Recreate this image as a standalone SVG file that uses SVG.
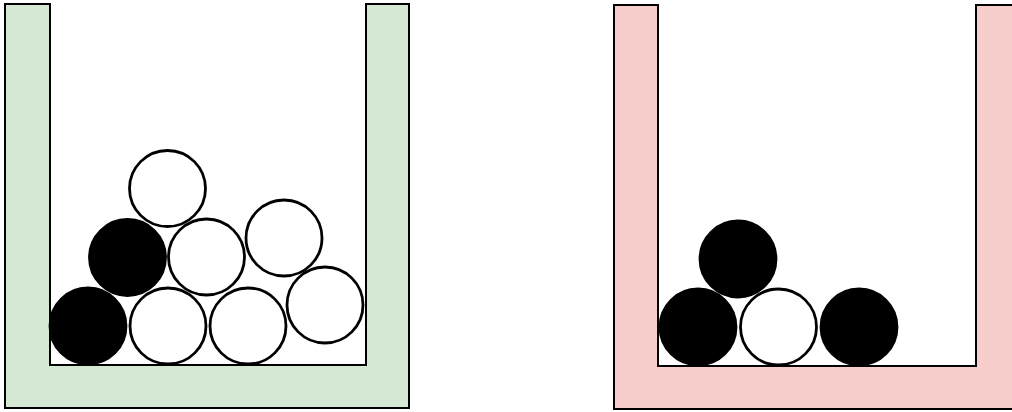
<svg xmlns="http://www.w3.org/2000/svg" width="1012" height="412" viewBox="0 0 1012 412">
<style>
.wall{stroke:#000;stroke-width:2}
.ball{stroke:#000;stroke-width:2.8}
.w{fill:#fff}
.b{fill:#000}
</style>
<rect width="1012" height="412" fill="#fff"/>
<g id="container-left">
<path class="wall" fill="#d5e8d4" d="M5,4 H50 V365 H366 V4 H409 V408 H5 Z"/>
</g>
<g id="balls-left">
<circle class="ball b" cx="88" cy="326" r="38"/>
<circle class="ball w" cx="168" cy="326" r="38"/>
<circle class="ball w" cx="248" cy="326" r="38"/>
<circle class="ball w" cx="325" cy="305" r="38"/>
<circle class="ball b" cx="127.5" cy="257.5" r="38"/>
<circle class="ball w" cx="206.5" cy="257" r="38"/>
<circle class="ball w" cx="284" cy="238" r="38"/>
<circle class="ball w" cx="167.5" cy="188.5" r="38"/>
</g>
<g id="container-right">
<path class="wall" fill="#f8cecc" d="M614,5 H658 V366 H976 V5 H1019 V409 H614 Z"/>
</g>
<g id="balls-right">
<circle class="ball b" cx="698" cy="327" r="38"/>
<circle class="ball w" cx="778.5" cy="327" r="38"/>
<circle class="ball b" cx="859" cy="327" r="38"/>
<circle class="ball b" cx="738" cy="259" r="38"/>
</g>
</svg>
